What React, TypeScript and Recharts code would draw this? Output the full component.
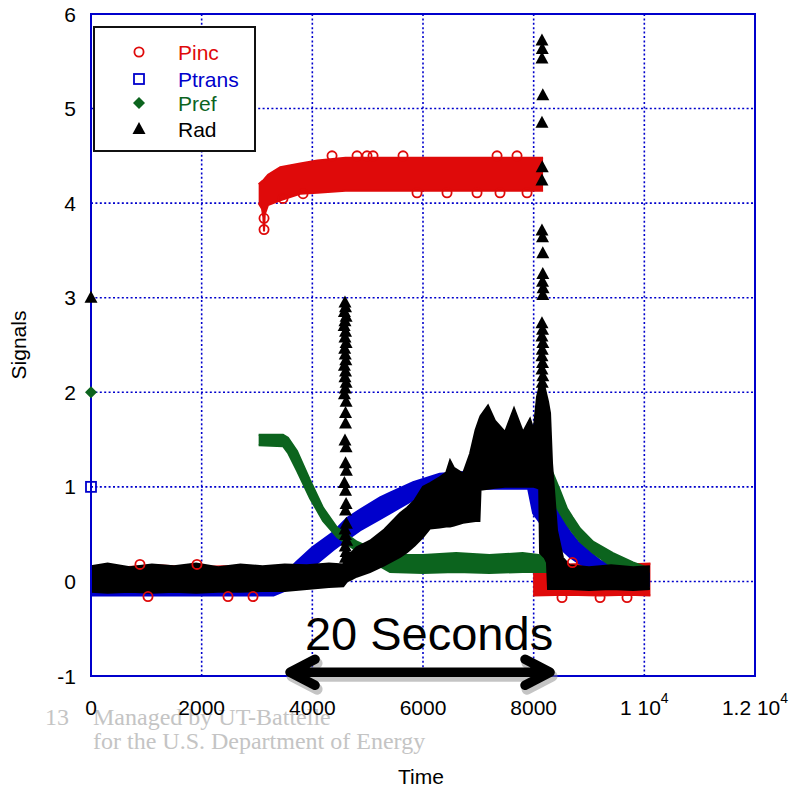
import React from 'react'
import {
  ComposedChart,
  Area,
  Scatter,
  XAxis,
  YAxis,
  CartesianGrid,
  ReferenceArea,
  ReferenceLine,
  Legend,
} from 'recharts'

const RED = '#df0a0a'
const BLUE = '#0000cc'
const GREEN = '#0c641e'
const BLACK = '#000000'
const SANS = '"Liberation Sans", Arial, sans-serif'
const SERIF = '"Liberation Serif", "Times New Roman", serif'

const timeTicks = [0, 2000, 4000, 6000, 8000, 10000, 12000]
const signalTicks = [-1, 0, 1, 2, 3, 4, 5, 6]
const seriesNames = ['Pinc', 'Ptrans', 'Pref', 'Rad']
const seriesColors = [RED, BLUE, GREEN, BLACK]

// Pinc (red circles): spread of the points, low / high edge
const pincBaseTime = [0, 600, 1200, 1800, 2400, 3090]
const pincBaseLow = [-0.14, -0.13, -0.14, -0.13, -0.14, -0.13]
const pincBaseHigh = [0.16, 0.15, 0.17, 0.15, 0.16, 0.15]

const pincOnTime = [3030, 3090, 3115, 3127, 3140, 3200, 3420, 3780, 4090, 4600, 5500, 6500, 7500, 8170]
const pincOnLow = [4.0, 3.94, 3.85, 3.7, 3.88, 3.98, 4.03, 4.1, 4.11, 4.13, 4.13, 4.13, 4.13, 4.13]
const pincOnHigh = [4.2, 4.23, 4.24, 4.25, 4.26, 4.3, 4.38, 4.42, 4.45, 4.48, 4.48, 4.48, 4.48, 4.48]

const pincOffTime = [7990, 8600, 9200, 9700, 10110]
const pincOffLow = [-0.15, -0.14, -0.15, -0.14, -0.15]
const pincOffHigh = [0.19, 0.18, 0.19, 0.18, 0.19]

const pincMarkTime = [3127, 3127, 3470, 3832, 4356, 4808, 4988, 5097, 5639, 5892, 6434, 6976, 7338, 7392, 7699, 7880, 885, 1915, 1030, 2476, 2928, 8512, 9200, 9687, 8700]
const pincMarkValue = [3.72, 3.84, 4.05, 4.1, 4.5, 4.5, 4.5, 4.5, 4.5, 4.11, 4.11, 4.11, 4.5, 4.11, 4.5, 4.11, 0.18, 0.18, -0.16, -0.16, -0.16, -0.17, -0.17, -0.17, 0.2]

// Ptrans (blue squares)
const ptransTime = [0, 1000, 2000, 3000, 3300, 3500, 3700, 4000, 4374, 4627, 4862, 5223, 5404, 5820, 6300, 6800, 7500, 7900, 7990, 8115, 8200, 8300, 8400, 8500, 8650, 8800, 9000, 9200, 9500, 9800, 10100]
const ptransLow = [-0.15, -0.15, -0.15, -0.15, -0.15, -0.1, 0.0, 0.15, 0.33, 0.44, 0.54, 0.66, 0.72, 0.86, 0.96, 0.98, 0.98, 0.98, 0.72, 0.62, 0.58, 0.5, 0.42, 0.34, 0.26, 0.2, 0.14, 0.08, 0.03, -0.01, -0.05]
const ptransHigh = [0.0, 0.0, 0.0, 0.0, 0.0, 0.08, 0.2, 0.36, 0.52, 0.67, 0.76, 0.89, 0.94, 1.05, 1.14, 1.16, 1.16, 1.17, 1.17, 1.17, 1.12, 0.98, 0.8, 0.68, 0.53, 0.42, 0.32, 0.22, 0.15, 0.1, 0.08]
const ptransMarkTime = [0]
const ptransMarkValue = [1]

// Pref (green diamonds)
const prefBaseTime = [0, 3000]
const prefBaseLow = [-0.02, -0.02]
const prefBaseHigh = [0.14, 0.14]

const prefMainTime = [3030, 3470, 3560, 3723, 3958, 4193, 4446, 4807, 5100, 5404, 6000, 6600, 7200, 7800, 8240]
const prefMainLow = [1.44, 1.43, 1.36, 1.17, 0.88, 0.64, 0.47, 0.32, 0.2, 0.1, 0.09, 0.1, 0.09, 0.1, 0.1]
const prefMainHigh = [1.55, 1.55, 1.52, 1.38, 1.07, 0.78, 0.57, 0.42, 0.34, 0.28, 0.28, 0.3, 0.28, 0.3, 0.27]

const prefTailTime = [8240, 8300, 8350, 8476, 8603, 8700, 8838, 9073, 9435, 9796, 10080]
const prefTailLow = [1.0, 0.92, 0.85, 0.72, 0.6, 0.52, 0.42, 0.3, 0.15, 0.07, 0.02]
const prefTailHigh = [1.25, 1.2, 1.14, 0.96, 0.77, 0.68, 0.56, 0.42, 0.3, 0.2, 0.14]
const prefMarkTime = [0]
const prefMarkValue = [2]

// Rad (black triangles)
const radTime = [0, 300, 700, 1100, 1500, 1900, 2300, 2700, 3100, 3500, 3900, 4300, 4560, 4627, 4700, 4800, 5042, 5300, 5585, 5711, 5850, 6000, 6127, 6300, 6420, 6489, 6560, 6723, 6850, 6950, 7020, 7040, 7175, 7300, 7482, 7645, 7808, 7934, 8000, 8060, 8100, 8115, 8200, 8240, 8260, 8296, 8332, 8422, 8530, 8650, 9000, 9400, 9800, 10100]
const radLow = [-0.11, -0.12, -0.11, -0.12, -0.11, -0.12, -0.11, -0.11, -0.1, -0.1, -0.08, -0.06, -0.05, 0.0, 0.02, 0.05, 0.1, 0.17, 0.26, 0.31, 0.38, 0.47, 0.56, 0.57, 0.58, 0.58, 0.59, 0.62, 0.63, 0.64, 0.64, 0.97, 0.98, 0.99, 1.0, 1.0, 1.0, 1.0, 1.0, 0.99, 0.98, 0.3, 0.25, 0.2, -0.08, -0.08, -0.08, -0.08, -0.08, -0.08, -0.09, -0.08, -0.09, -0.08]
const radHigh = [0.16, 0.19, 0.15, 0.18, 0.16, 0.19, 0.15, 0.18, 0.16, 0.18, 0.17, 0.19, 0.18, 0.3, 0.3, 0.36, 0.43, 0.55, 0.72, 0.78, 0.86, 1.0, 1.04, 1.1, 1.15, 1.28, 1.2, 1.14, 1.35, 1.6, 1.72, 1.75, 1.86, 1.7, 1.58, 1.83, 1.58, 1.72, 1.6, 1.95, 2.05, 2.08, 2.05, 1.95, 1.9, 1.78, 1.25, 0.54, 0.25, 0.17, 0.15, 0.17, 0.15, 0.16]

const radMarkTime = [
  0,
  4590, 4600, 4580, 4610, 4590, 4575, 4600, 4590, 4610, 4585, 4595, 4605, 4580, 4600, 4590, 4610, 4595, 4580,
  4610, 4600, 4600, 4590, 4610, 4600, 4615, 4580, 4600, 4610, 4600, 4615, 4590, 4600, 4620, 4595, 4610, 4600,
  8150, 8155, 8150, 8165, 8150, 8155, 8150, 8150, 8160, 8165, 8165, 8160, 8170, 8165, 8150, 8160, 8150, 8165,
  8155, 8150, 8160, 8150, 8165, 8155,
]
const radMarkValue = [
  3,
  2.95, 2.9, 2.85, 2.8, 2.75, 2.7, 2.64, 2.58, 2.52, 2.46, 2.4, 2.34, 2.28, 2.22, 2.16, 2.1, 2.04, 1.98,
  1.9, 1.78, 1.67, 1.49, 1.42, 1.25, 1.17, 1.04, 0.96, 0.82, 0.75, 0.61, 0.55, 0.49, 0.43, 0.37, 0.31, 0.25,
  5.72, 5.63, 5.53, 5.14, 4.85, 4.38, 4.24, 3.71, 3.64, 3.47, 3.25, 3.17, 3.1, 3.03, 2.73, 2.66, 2.59, 2.52,
  2.45, 2.38, 2.31, 2.24, 2.17, 2.1,
]

function band(time: number[], low: number[], high: number[]) {
  return time.map((x, i) => ({ x, r: [low[i], high[i]] }))
}

function points(time: number[], value: number[]) {
  return time.map((x, i) => ({ x, y: value[i] }))
}

const Ring = (p: any) => <circle cx={p.cx} cy={p.cy} r={4.6} fill="none" stroke={RED} strokeWidth={1.8} />
const Box = (p: any) => (
  <rect x={p.cx - 5} y={p.cy - 5} width={10} height={10} fill="none" stroke={BLUE} strokeWidth={1.8} />
)
const Diamond = (p: any) => (
  <path d={`M${p.cx},${p.cy - 6}L${p.cx + 6},${p.cy}L${p.cx},${p.cy + 6}L${p.cx - 6},${p.cy}Z`} fill={GREEN} />
)
const Tri = (p: any) => (
  <path d={`M${p.cx},${p.cy - 7}L${p.cx + 6.5},${p.cy + 5}L${p.cx - 6.5},${p.cy + 5}Z`} fill={BLACK} />
)
const markers = [Ring, Box, Diamond, Tri]

function LegendBox() {
  const rowY = [26, 53, 77, 103]
  return (
    <svg width={163} height={126} style={{ display: 'block' }}>
      <rect x={1} y={1} width={161} height={124} fill="#fff" stroke="#111" strokeWidth={2} />
      {seriesNames.map((name, i) => {
        const Mark = markers[i]
        return (
          <g key={name}>
            <Mark cx={46} cy={rowY[i]} />
            <text x={85} y={rowY[i] + 7.5} fill={seriesColors[i]} fontSize={21} fontFamily={SANS}>
              {name}
            </text>
          </g>
        )
      })}
    </svg>
  )
}

function TimeTick(p: any) {
  const v = p.payload.value
  const y = p.y + 39
  if (v >= 10000) {
    return (
      <text x={p.x} y={y} textAnchor="middle" fontSize={21} fontFamily={SANS} fill="#000">
        {`${v / 10000} 10`}
        <tspan dy={-12} fontSize={14}>4</tspan>
      </text>
    )
  }
  return (
    <text x={p.x} y={y} textAnchor="middle" fontSize={21} fontFamily={SANS} fill="#000">
      {v}
    </text>
  )
}

function SignalTick(p: any) {
  return (
    <text x={p.x - 15} y={p.y + 7.5} textAnchor="end" fontSize={21} fontFamily={SANS} fill="#000">
      {p.payload.value}
    </text>
  )
}

function SpanArrow(p: any) {
  const { x1, y1, x2 } = p
  const head = 25
  const spread = 13
  const d =
    `M${x1 + 3},${y1}L${x2 - 3},${y1}` +
    `M${x1 + head},${y1 - spread}L${x1},${y1}L${x1 + head},${y1 + spread}` +
    `M${x2 - head},${y1 - spread}L${x2},${y1}L${x2 - head},${y1 + spread}`
  return (
    <g>
      <path d={d} transform="translate(2,4)" fill="none" stroke="#8a8a8a" strokeOpacity={0.5} strokeWidth={11} strokeLinecap="round" strokeLinejoin="round" />
      <path d={d} fill="none" stroke="#000" strokeWidth={9.5} strokeLinecap="round" strokeLinejoin="round" />
      <text x={(x1 + x2) / 2 + 9} y={y1 - 22} textAnchor="middle" fontSize={47} fontFamily={SANS} fill="#000">
        20 Seconds
      </text>
    </g>
  )
}

const areaProps = {
  type: 'linear' as const,
  dataKey: 'r',
  strokeWidth: 2,
  fillOpacity: 1,
  dot: false,
  activeDot: false,
  isAnimationActive: false,
}

export default function App() {
  return (
    <div style={{ position: 'absolute', left: 0, top: 0, width: 791, height: 788, background: '#fff', overflow: 'hidden' }}>
      <svg width={791} height={788} style={{ position: 'absolute', left: 0, top: 0 }}>
        <g fill="#c4c4c4" fontFamily={SERIF} fontSize={24}>
          <text x={45} y={725}>13</text>
          <text x={93} y={725}>Managed by UT-Battelle</text>
          <text x={93} y={749}>for the U.S. Department of Energy</text>
        </g>
      </svg>
      <div style={{ position: 'absolute', left: 0, top: 0 }}>
        <ComposedChart width={791} height={788} margin={{ top: 14, right: 36, bottom: 0, left: 0 }}>
          <CartesianGrid stroke={BLUE} strokeWidth={1.6} strokeDasharray="2 2.4" />
          <XAxis
            type="number"
            dataKey="x"
            domain={[0, 12000]}
            ticks={timeTicks}
            height={112}
            axisLine={false}
            tickLine={false}
            tickSize={0}
            tickMargin={0}
            tick={<TimeTick />}
            label={{
              content: (lp: any) => {
                const vb = lp.viewBox || { x: 91, y: 676, width: 664 }
                return (
                  <text x={vb.x + vb.width / 2 - 2} y={vb.y + 108} textAnchor="middle" fontSize={21} fontFamily={SANS} fill="#000">
                    Time
                  </text>
                )
              },
            }}
          />
          <YAxis
            type="number"
            domain={[-1, 6]}
            ticks={signalTicks}
            width={91}
            axisLine={false}
            tickLine={false}
            tickSize={0}
            tickMargin={0}
            tick={<SignalTick />}
            label={{
              content: (lp: any) => {
                const vb = lp.viewBox || { x: 0, y: 14, height: 662 }
                const cx = vb.x + 26
                const cy = vb.y + vb.height / 2
                return (
                  <text x={cx} y={cy} transform={`rotate(-90 ${cx} ${cy})`} textAnchor="middle" fontSize={21} fontFamily={SANS} fill="#000">
                    Signals
                  </text>
                )
              },
            }}
          />
          <Legend
            layout="vertical"
            align="center"
            verticalAlign="middle"
            content={() => <LegendBox />}
            wrapperStyle={{ position: 'absolute', left: 93, top: 26, width: 163, height: 126, margin: 0, padding: 0 }}
          />

          <Area {...areaProps} name="Pinc" data={band(pincBaseTime, pincBaseLow, pincBaseHigh)} stroke={RED} fill={RED} />
          <Area {...areaProps} name="Pinc" data={band(pincOnTime, pincOnLow, pincOnHigh)} stroke={RED} fill={RED} />
          <Area {...areaProps} name="Pinc" data={band(pincOffTime, pincOffLow, pincOffHigh)} stroke={RED} fill={RED} />
          <Area {...areaProps} name="Ptrans" data={band(ptransTime, ptransLow, ptransHigh)} stroke={BLUE} fill={BLUE} />
          <Area {...areaProps} name="Pref" data={band(prefBaseTime, prefBaseLow, prefBaseHigh)} stroke={GREEN} fill={GREEN} />
          <Area {...areaProps} name="Pref" data={band(prefMainTime, prefMainLow, prefMainHigh)} stroke={GREEN} fill={GREEN} />
          <Area {...areaProps} name="Pref" data={band(prefTailTime, prefTailLow, prefTailHigh)} stroke={GREEN} fill={GREEN} />
          <Area {...areaProps} name="Rad" data={band(radTime, radLow, radHigh)} stroke={BLACK} fill={BLACK} />

          <Scatter name="Pinc" data={points(pincMarkTime, pincMarkValue)} dataKey="y" shape={Ring} isAnimationActive={false} />
          <Scatter name="Ptrans" data={points(ptransMarkTime, ptransMarkValue)} dataKey="y" shape={Box} isAnimationActive={false} />
          <Scatter name="Pref" data={points(prefMarkTime, prefMarkValue)} dataKey="y" shape={Diamond} isAnimationActive={false} />
          <Scatter name="Rad" data={points(radMarkTime, radMarkValue)} dataKey="y" shape={Tri} isAnimationActive={false} />

          <ReferenceArea x1={0} x2={12000} y1={-1} y2={6} fill="none" fillOpacity={0} stroke={BLUE} strokeWidth={2} ifOverflow="visible" />
          <ReferenceLine
            segment={[
              { x: 3597, y: -0.96 },
              { x: 8296, y: -0.96 },
            ]}
            shape={SpanArrow}
            ifOverflow="visible"
          />
        </ComposedChart>
      </div>
    </div>
  )
}
